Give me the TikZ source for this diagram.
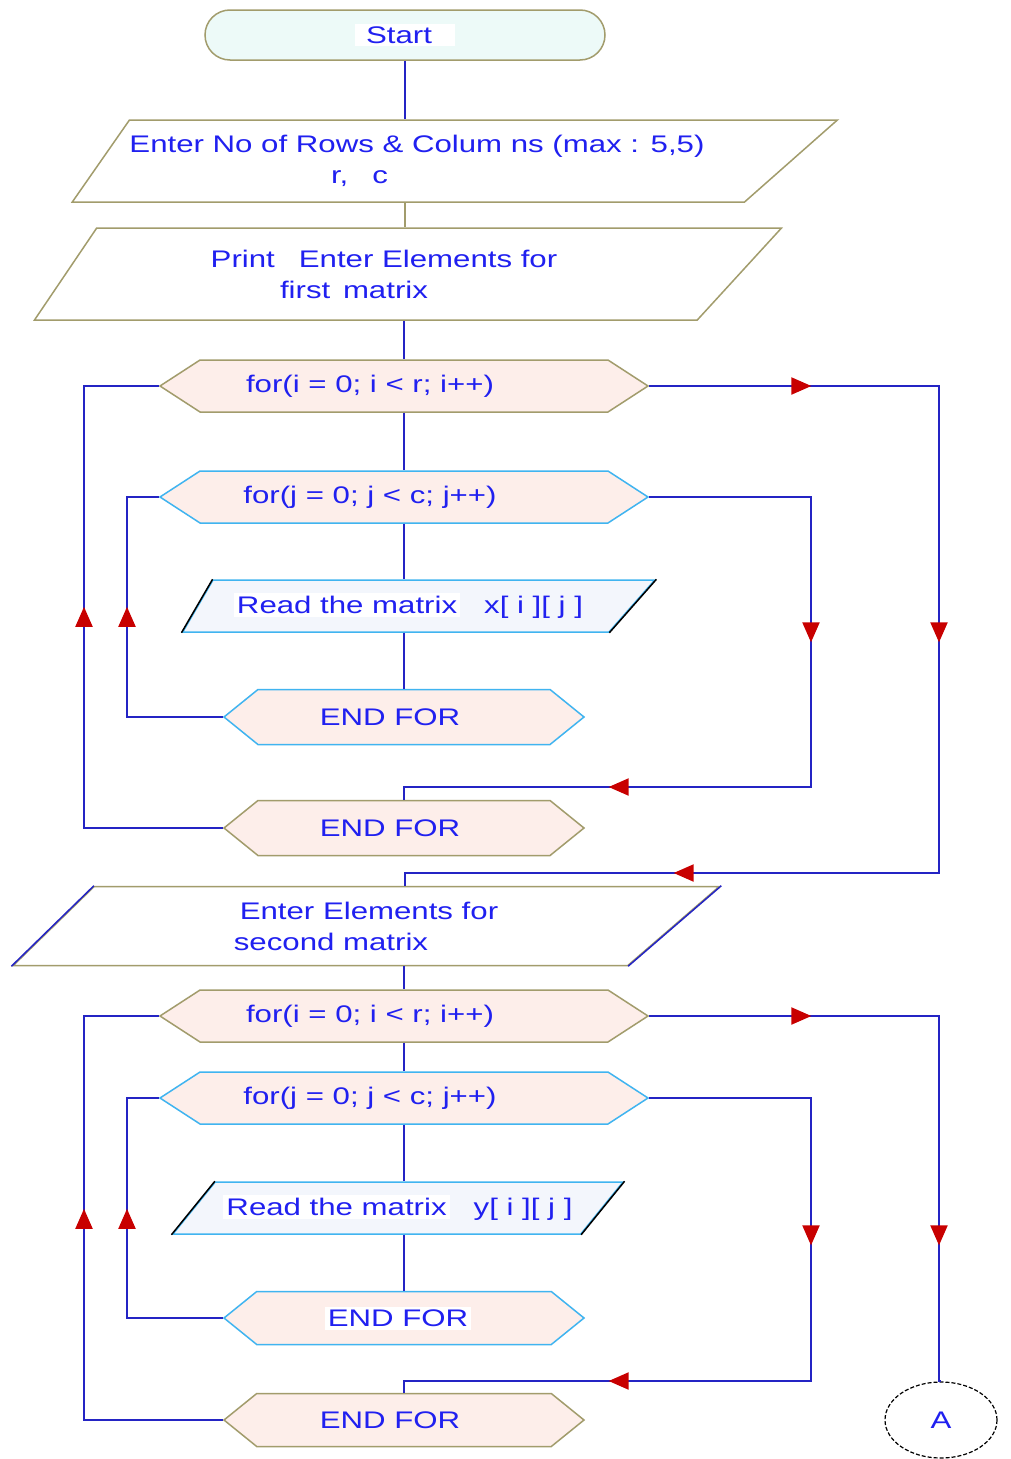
\documentclass[tikz,border=0pt]{standalone}
\usepackage{fontspec}
\setmainfont{Liberation Sans}[FakeStretch=1.3]
\usetikzlibrary{arrows.meta,positioning,shapes.geometric,shapes.symbols,decorations.markings}
\definecolor{flowblue}{HTML}{2424C4}
\definecolor{textblue}{HTML}{2020F0}
\definecolor{olivebd}{HTML}{A29C6C}
\definecolor{skybd}{HTML}{40B4F0}
\definecolor{hexfill}{HTML}{FDEEEA}
\definecolor{startfill}{HTML}{EDFAF8}
\definecolor{readfill}{HTML}{F3F6FC}
\definecolor{tipred}{HTML}{C80000}
\tikzset{
  terminal/.style={draw=olivebd, fill=startfill, rounded corners=25pt, minimum width=400pt, minimum height=50pt, line width=1.5pt},
  io/.style={trapezium, trapezium stretches body, draw=olivebd, fill=white, inner sep=0pt, align=center, line width=1.5pt},
  loopbox/.style={signal, signal to=east and west, draw=olivebd, fill=hexfill, inner sep=0pt, minimum width=488pt, minimum height=52pt, signal pointer angle=66, line width=1.5pt},
  endbox/.style={loopbox, minimum width=360pt, minimum height=55pt, signal pointer angle=78},
  flow/.style={draw=flowblue, line width=2pt},
  redtip/.style={postaction={decorate, decoration={markings, mark=at position #1 with {\arrow{Triangle[length=20pt,width=17pt,color=tipred]}}}}}
}
\newcommand{\whitebg}[1]{{\setlength{\fboxsep}{3pt}\colorbox{white}{#1}}}

\begin{document}
\begin{tikzpicture}[x=1pt, y=-1pt, font=\fontsize{24}{31}\selectfont, text=textblue]
  \useasboundingbox[fill=white] (0,0) rectangle (1011,1459);

  % first matrix
  \node[terminal] (start) at (405,35) {\whitebg{\hspace*{8pt}Start\hspace*{20pt}}};
  \node[io, minimum width=762pt, minimum height=82pt, trapezium left angle=42, trapezium right angle=151] (dims) at (437,161)
    {Enter No of Rows \& Colum ns (max : 5,5)\hspace*{40pt}\\ r,\quad c\hspace*{155pt}};
  \node[io, minimum width=747pt, minimum height=92pt, trapezium left angle=38, trapezium right angle=150] (msgx) at (397,274)
    {Print\quad Enter Elements for\hspace*{26pt}\\ first\, matrix\hspace*{86pt}};
  \node[loopbox] (fori1) at (404,386) {for(i = 0; i < r; i++)\hspace*{68pt}};
  \node[loopbox, draw=skybd] (forj1) at (404,497) {for(j = 0; j < c; j++)\hspace*{68pt}};
  \node[io, draw=skybd, fill=readfill, minimum width=472pt, minimum height=52pt, trapezium left angle=40, trapezium right angle=151] (readx) at (411,606)
    {\whitebg{Read the matrix}\quad x[ i ][ j ]\hspace*{5pt}};
  \node[endbox, draw=skybd] (endj1) at (404,717) {END FOR\hspace*{28pt}};
  \node[endbox] (endi1) at (404,828) {END FOR\hspace*{28pt}};

  % second matrix
  \node[io, minimum width=706pt, minimum height=79pt, trapezium left angle=31, trapezium right angle=152] (msgy) at (361,926)
    {\hspace*{16pt}Enter Elements for\\ second matrix\hspace*{60pt}};
  \node[loopbox] (fori2) at (404,1016) {for(i = 0; i < r; i++)\hspace*{68pt}};
  \node[loopbox, draw=skybd] (forj2) at (404,1098) {for(j = 0; j < c; j++)\hspace*{68pt}};
  \node[io, draw=skybd, fill=readfill, minimum width=450pt, minimum height=52pt, trapezium left angle=31, trapezium right angle=149] (ready) at (398,1208)
    {\whitebg{Read the matrix}\quad y[ i ][ j ]};
  \node[endbox, draw=skybd, minimum height=53pt] (endj2) at (404,1318) {\whitebg{END FOR}\hspace*{12pt}};
  \node[endbox, minimum height=53pt] (endi2) at (404,1420) {END FOR\hspace*{28pt}};
  \node[ellipse, draw=black, line width=1.2pt, dash pattern=on 4pt off 2pt, minimum width=112pt, minimum height=76pt] (conA) at (941,1420) {A};

  % side lines of the in/out boxes
  \draw[black, line width=1.5pt] (readx.top left corner) -- (readx.bottom left corner) (readx.top right corner) -- (readx.bottom right corner);
  \draw[black, line width=1.5pt] (ready.top left corner) -- (ready.bottom left corner) (ready.top right corner) -- (ready.bottom right corner);
  \draw[flowblue, line width=1.5pt] (msgy.top left corner) -- (msgy.bottom left corner) (msgy.top right corner) -- (msgy.bottom right corner);

  % rails of the loops
  \coordinate (railL) at (84,0);
  \coordinate (railLL) at (127,0);
  \coordinate (railM) at (811,0);
  \coordinate (railR) at (939,0);
  \coordinate (backj1) at (405,787);
  \coordinate (backi1) at (405,873);
  \coordinate (backj2) at (405,1381);

  % straight connectors
  \draw[flow] (start.south) -- (start.south |- dims.north);
  \draw[draw=olivebd, line width=2pt] (dims.south -| start.south) -- (msgx.north -| start.south);
  \draw[flow] (msgx.south -| fori1.north) -- (fori1.north);
  \draw[flow] (fori1.south) -- (forj1.north);
  \draw[flow] (forj1.south) -- (forj1.south |- readx.north);
  \draw[flow] (forj1.south |- readx.south) -- (endj1.north);
  \draw[flow] (msgy.south -| fori2.north) -- (fori2.north);
  \draw[flow] (fori2.south) -- (forj2.north);
  \draw[flow] (forj2.south) -- (forj2.south |- ready.north);
  \draw[flow] (forj2.south |- ready.south) -- (endj2.north);

  % loops of the first matrix
  \draw[flow, redtip=162pt, redtip=546pt, redtip=1042pt] (fori1.east) -| (railR |- backi1) -| (msgy.north -| backi1);
  \draw[flow, redtip=307pt, redtip=654pt] (forj1.east) -| (railM |- backj1) -| (endi1.north);
  \draw[flow, redtip=206pt] (endj1.west) -- (endj1.west -| railLL) |- (forj1.west);
  \draw[flow, redtip=360pt] (endi1.west) -- (endi1.west -| railL) |- (fori1.west);

  % loops of the second matrix
  \draw[flow, redtip=162pt, redtip=519pt] (fori2.east) -| (railR |- conA.north) -- (conA.north);
  \draw[flow, redtip=309pt, redtip=647pt] (forj2.east) -| (railM |- backj2) -| (endi2.north);
  \draw[flow, redtip=205pt] (endj2.west) -- (endj2.west -| railLL) |- (forj2.west);
  \draw[flow, redtip=350pt] (endi2.west) -- (endi2.west -| railL) |- (fori2.west);
\end{tikzpicture}
\end{document}
